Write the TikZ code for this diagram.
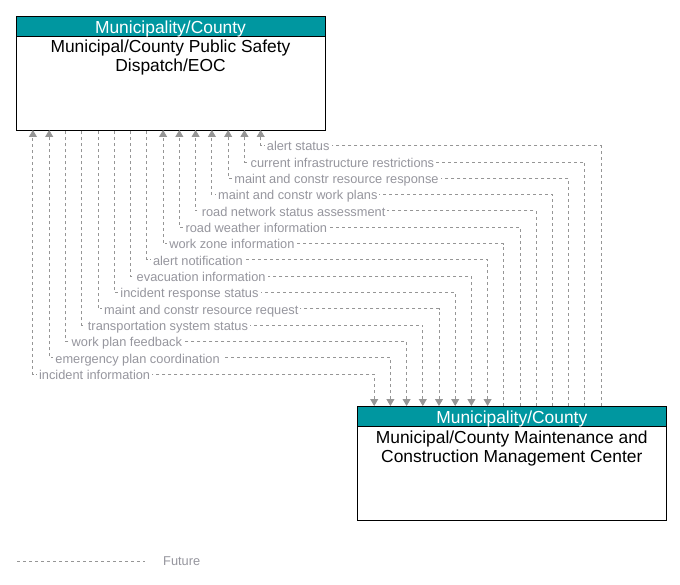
\documentclass[tikz,border=0pt]{standalone}
\usepackage{fontspec}
\setmainfont{Liberation Sans}
\usetikzlibrary{arrows.meta,calc}
\definecolor{hdr}{RGB}{0,151,160}
\definecolor{flowc}{RGB}{150,150,150}
\definecolor{lblc}{RGB}{150,150,158}
\begin{document}
\begin{tikzpicture}[x=1pt,y=-1pt,
  box/.style={draw=black,line width=0.9pt,fill=white,inner sep=0pt,outer sep=0pt},
  hdrbox/.style={draw=black,line width=0.9pt,fill=hdr,text=white,inner sep=0pt,outer sep=0pt,
    text height=14.4pt,text depth=0pt,
    font=\fontsize{17.4}{19}\selectfont},
  titletext/.style={align=center,inner sep=0pt,text=black,
    font=\fontsize{17.4}{19}\selectfont},
  flow/.style={draw=flowc,line width=0.9pt,dash pattern=on 3pt off 3pt},
  upflow/.style={-{Triangle[width=8pt,length=7pt,fill=flowc,color=flowc]}},
  downflow/.style={{Triangle[width=8pt,length=7pt,fill=flowc,color=flowc]}-},
  twoway/.style={{Triangle[width=8pt,length=7pt,fill=flowc,color=flowc]}-{Triangle[width=8pt,length=7pt,fill=flowc,color=flowc]}},
  lbl/.style={fill=white,text=lblc,inner xsep=2pt,inner ysep=1pt,
    text height=9pt,text depth=2.5pt,
    font=\fontsize{12.8}{14}\selectfont}
]
\useasboundingbox (0,0) rectangle (680,585);

% top box
\node[box,minimum width=309pt,minimum height=114pt,anchor=north west] (dispatch) at (16,16) {};
\node[hdrbox,minimum width=309pt,minimum height=20pt,anchor=north west] (dispatchhdr) at (16,16) {Municipality/County};
\node[titletext,anchor=center] (dispatchtitle) at ($(dispatchhdr.south)+(0,21.7)$) {Municipal/County Public Safety\\Dispatch/EOC};

% bottom box
\node[box,minimum width=309pt,minimum height=114pt,anchor=north west] (mcc) at (357.3,406) {};
\node[hdrbox,minimum width=309pt,minimum height=20.5pt,anchor=north west] (mcchdr) at (357.3,406) {Municipality/County};
\node[titletext,anchor=center] (mcctitle) at ($(mcchdr.south)+(0,21.7)$) {Municipal/County Maintenance and\\Construction Management Center};

% flows
\foreach \i/\dir in {1/upflow,2/upflow,3/upflow,4/upflow,5/upflow,6/upflow,7/upflow,
  8/downflow,9/downflow,10/downflow,11/downflow,12/downflow,13/downflow,
  14/twoway,15/twoway}{
  \draw[flow,\dir] ($(mcc.north west)+({243.7-16.2*(\i-1)},0)$)
     |- ($(dispatch.south west)+({244.7-16.27*(\i-1)},{15.7+16.31*(\i-1)})$)
     -- ($(dispatch.south west)+({244.7-16.27*(\i-1)},0)$);
}
\foreach \i/\txt in {
  1/alert status,
  2/current infrastructure restrictions,
  3/maint and constr resource response,
  4/maint and constr work plans,
  5/road network status assessment,
  6/road weather information,
  7/work zone information,
  8/alert notification,
  9/evacuation information,
  10/incident response status,
  11/maint and constr resource request,
  12/transportation system status,
  13/work plan feedback,
  14/emergency plan coordination,
  15/incident information}{
  \node[lbl,anchor=base west] (l\i) at ($(dispatch.south west)+({248.7-16.27*(\i-1)},{21.0+16.31*(\i-1)})$) {\txt};
}

% legend
\coordinate (lg1) at (17,561);
\coordinate (lg2) at (145,561);
\draw[flow] (lg1) -- (lg2);
\node[lbl,anchor=base west] (future) at (161,565.5) {Future};
\end{tikzpicture}
\end{document}
